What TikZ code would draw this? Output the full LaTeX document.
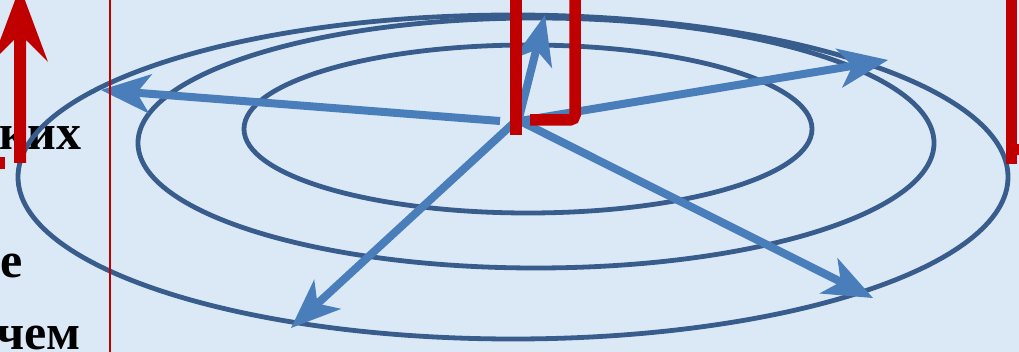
\documentclass[tikz,border=0pt]{standalone}
\usepackage{fontspec}
\setmainfont{Liberation Serif}
\usetikzlibrary{arrows.meta}
\definecolor{bgblue}{RGB}{219,233,246}
\definecolor{ringblue}{RGB}{56,92,140}
\definecolor{arrowblue}{RGB}{74,126,187}
\definecolor{markred}{RGB}{192,0,0}
\tikzset{
  ring/.style={draw=ringblue, line width=4.8pt},
  ray/.style={draw=arrowblue, line width=8pt,
    -{Stealth[length=50pt,width=40pt,inset=14pt,line width=0pt]}},
  redfill/.style={fill=markred, draw=none},
  redline/.style={draw=markred, line width=11.5pt, rounded corners=5pt},
  word/.style={inner sep=0pt, anchor=base east, font=\fontsize{50}{55}\selectfont\bfseries}
}
\begin{document}
\begin{tikzpicture}[x=1pt,y=-1pt]
\useasboundingbox (0,0) rectangle (1019,352);
\clip (0,0) rectangle (1019,352);
\fill[bgblue] (0,0) rectangle (1019,352);
% text fragments
\node[word] (t1) at (82,150) {ких};
\node[word] (t2) at (23,278) {е};
\node[word] (t3) at (81,349) {чем};
% rings
\draw[ring] (513,177) ellipse [x radius=495pt, y radius=162pt];
\draw[ring] (536,143) ellipse [x radius=398pt, y radius=125pt];
\draw[ring] (528,129) ellipse [x radius=284pt, y radius=84pt];
% rays
\coordinate (c) at (520,121);
\coordinate (cl) at (500,121);
\coordinate (tl) at (101,90);
\coordinate (tu) at (545,15);
\coordinate (tur) at (888,60);
\coordinate (tll) at (291,328);
\coordinate (tlr) at (873,298);
\draw[ray] (cl) -- (tl);
\draw[ray] ([xshift=-1pt,yshift=3pt]c) -- (tu);
\draw[ray] (c) -- (tur);
\draw[ray] ([xshift=-2pt,yshift=2pt]c) -- (tll);
\draw[ray] (c) -- (tlr);
% red marks
\fill[redfill] (20,-13) -- (48,62) -- (26,40) -- (26,163) -- (14,163) -- (14,40) -- (-8,62) -- cycle;
\fill[redfill] (-10,157) rectangle (5,169);
\fill[redfill] (510,-5) rectangle (522,135);
\coordinate (ja) at (530,120);
\coordinate (jb) at (575,120);
\coordinate (jc) at (575,-10);
\draw[redline] (ja) -- (jb) -- (jc);
\fill[redfill] (1006,-5) rectangle (1017,164);
\fill[redfill] (1017,144) rectangle (1022,155);
\coordinate (vt) at (110,0);
\coordinate (vb) at (110,352);
\draw[markred, line width=1.8pt] (vt) -- (vb);
\end{tikzpicture}
\end{document}
